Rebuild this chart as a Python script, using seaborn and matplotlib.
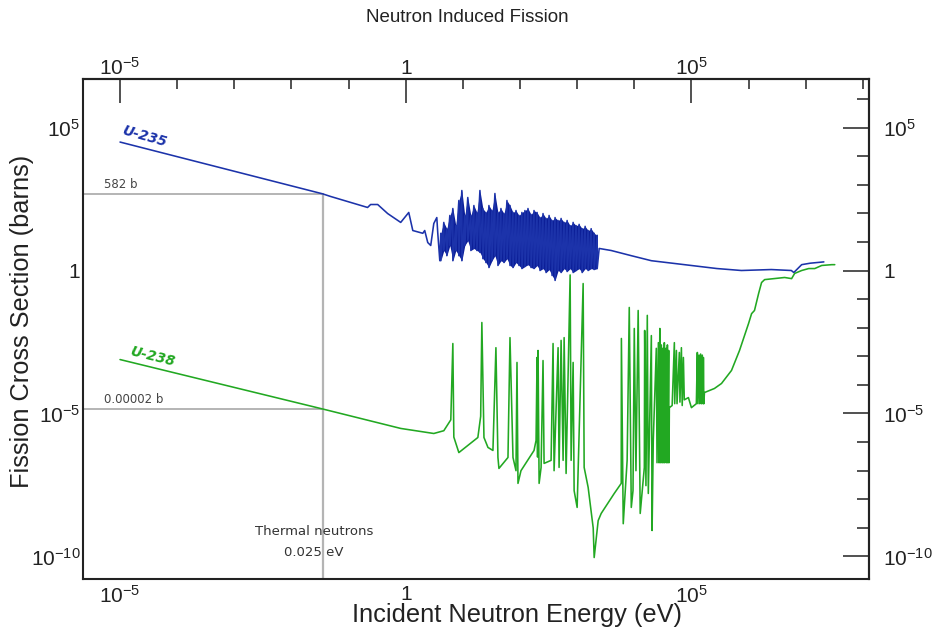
import matplotlib
matplotlib.use("Agg")
import matplotlib.pyplot as plt
from matplotlib.ticker import NullFormatter
import pandas as pd
import seaborn as sns

# ---------------- data ----------------
# U-235: smooth 1/v region and first resonances
u235_low_energy = [1e-5, 0.035, 0.048, 0.215, 0.243, 0.323, 0.483, 0.817, 1.13, 1.33,
                   1.99, 2.15, 2.43, 2.74, 3.1, 3.5, 3.64, 3.95]
u235_low_sigma = [31000, 480, 390, 160, 203, 203, 98, 48, 107, 25,
                  20, 25, 9.5, 7.5, 44, 71, 20, 2.2]

# U-235: dense resolved-resonance band (upper / lower envelope per column)
u235_band_energy = [4.11, 4.64, 5.24, 5.92, 6.68, 7.54, 8.51, 9.6, 10.8, 12.2,
                    13.8, 15.6, 17.6, 19.9, 22.4, 25.3, 28.6, 32.3, 36.4, 41.1,
                    46.4, 52.4, 59.1, 66.8, 75.4, 85.1, 96, 108, 122, 138,
                    156, 176, 199, 224, 253, 286, 323, 364, 411, 464,
                    524, 592, 668, 754, 851, 960, 1084, 1224, 1381, 1559,
                    1760, 1987, 2244]
u235_band_top = [20, 48, 29, 84, 147, 37, 280, 627, 84, 357,
                 84, 187, 107, 627, 147, 107, 187, 125, 492, 107,
                 147, 98, 280, 187, 107, 125, 84, 107, 125, 147,
                 91, 125, 107, 71, 98, 66, 84, 56, 71, 56,
                 66, 48, 56, 37, 48, 37, 41, 29, 35, 25,
                 29, 20, 17]
u235_band_bottom = [2.2, 5.0, 3.3, 7.5, 2.2, 5.0, 3.3, 2.2, 7.5, 11,
                    5.0, 5.9, 5.0, 4.3, 2.6, 1.9, 1.27, 2.2, 3.3, 1.5,
                    2.2, 1.9, 2.6, 1.5, 1.27, 1.9, 1.5, 1.17, 1.38, 1.6,
                    1.27, 1.17, 1.5, 1.0, 1.17, 0.85, 1.08, 0.67, 0.45, 1.0,
                    0.85, 1.17, 0.92, 1.17, 0.85, 1.0, 1.17, 0.85, 1.17, 1.0,
                    1.17, 1.08, 1.17]

# U-235: unresolved / fast region
u235_fast_energy = [2430, 3950, 8850, 1.99e4, 1e5, 2.8e5, 7.5e5, 2.5e6, 5.6e6, 6.2e6,
                    8.5e6, 1.2e7, 1.56e7, 2.08e7]
u235_fast_sigma = [5.9, 5.0, 3.3, 2.2, 1.5, 1.17, 1.0, 1.08, 1.0, 0.85,
                   1.6, 1.8, 1.9, 2.0]

# U-238 fission cross section
u238_energy = [1e-5, 0.035, 0.82, 3.1, 4.64, 6.15, 6.68, 6.95, 8.51,
               18.3, 20.5, 21.5, 23.4, 27.5, 33.6, 37.9, 41.1, 42.8,
               61.6, 66.8, 75.4, 85.1, 88.6, 92.2, 104,
               176, 191, 199, 203, 207, 216, 234, 253, 264,
               350, 379, 395, 464, 483, 524, 568, 592, 641, 754, 785, 851, 886, 1000,
               1274, 1327, 1559, 1910, 1987, 2335, 2636, 4460, 5910, 5950, 6410,
               7500, 8170, 8860, 9500, 1.0e4, 1.07e4, 1.17e4, 1.27e4, 1.5e4, 1.52e4,
               1.6e4, 1.69e4, 1.76e4, 1.99e4, 2.05e4, 2.15e4,
               2.43e4, 2.5e4, 2.64e4, 2.7e4, 2.8e4, 2.85e4, 2.98e4, 3.05e4, 3.16e4, 3.2e4,
               3.36e4, 3.4e4, 3.57e4, 3.64e4, 3.8e4, 3.85e4, 4.0e4, 4.05e4,
               4.11e4, 4.6e4, 5.03e4, 5.1e4, 5.46e4, 5.6e4, 6.15e4, 6.3e4, 6.68e4, 6.9e4,
               7.24e4, 7.5e4, 8.86e4, 1.0e5, 1.22e5,
               1.27e5, 1.3e5, 1.36e5, 1.4e5, 1.45e5, 1.5e5, 1.55e5, 1.6e5, 1.62e5, 1.65e5,
               1.69e5, 2.53e5, 3.36e5, 5.03e5, 6.95e5, 1.0e6, 1.13e6, 1.27e6, 1.5e6,
               1.69e6, 1.91e6, 4.28e6, 5.67e6, 6.41e6, 8.51e6, 1.13e7, 1.44e7, 1.91e7,
               2.86e7, 3.23e7]
u238_sigma = [7.7e-4, 1.44e-5, 3.0e-6, 2.0e-6, 2.5e-6, 6.0e-6, 2.8e-3, 1.5e-6, 4.3e-7,
              1.45e-6, 8.0e-6, 0.0152, 1.45e-6, 6.5e-7, 5.1e-7, 0.0020, 2.9e-7, 1.2e-7,
              2.9e-7, 0.0045, 2.9e-7, 1.0e-7, 6.1e-4, 3.6e-8, 1.0e-7,
              5.1e-7, 1.14e-6, 9.1e-4, 3.0e-7, 0.0016, 3.6e-8, 1.3e-7, 7.1e-4, 1.8e-7,
              2.3e-7, 0.0028, 1.0e-7, 0.0020, 1.3e-7, 0.0036, 2.3e-7, 0.0045, 8.0e-8, 0.7, 2.3e-7, 6.1e-4, 2.0e-8, 5.2e-9,
              0.35, 1.3e-7, 2.6e-8, 1.0e-9, 9.2e-11, 1.8e-9, 3.2e-9, 1.6e-8, 3.6e-8, 0.0042, 1.4e-9,
              2.3e-7, 0.051, 5.2e-9, 2.0e-8, 0.0094, 1.0e-7, 0.040, 3.2e-9, 1.3e-7, 0.0080,
              3.0e-8, 0.027, 1.6e-8, 0.0053, 8.1e-10, 1.14e-6,
              0.0019, 1.9e-7, 0.0030, 1.9e-7, 0.0094, 1.9e-7, 0.0025, 1.9e-7, 0.0019, 1.9e-7,
              0.0030, 1.9e-7, 0.0019, 1.9e-7, 0.0025, 1.9e-7, 0.0016, 1.9e-7,
              1.6e-5, 1.9e-5, 0.0030, 2.2e-5, 0.0016, 2.2e-5, 0.00136, 2.5e-5, 0.0020, 1.9e-5,
              9.1e-4, 3.0e-5, 3.6e-5, 1.6e-5, 2.2e-5,
              0.00136, 2.2e-5, 0.0011, 2.2e-5, 0.0012, 2.2e-5, 0.0011, 2.2e-5, 9.1e-4, 2.2e-5,
              5.4e-5, 7.5e-5, 1.12e-4, 3.2e-4, 0.0016, 0.014, 0.031, 0.040, 0.157,
              0.38, 0.48, 0.57, 0.52, 0.79, 1.0, 1.17, 1.17, 1.5,
              1.6, 1.6]

# reference markers
thermal_line_energy = 0.035
u235_thermal_sigma = 480
u238_thermal_sigma = 1.44e-5
thermal_label_energy = 0.025

x_major = [1e-5, 1, 1e5]
x_major_labels = [r"$\mathregular{10^{-5}}$", "1", r"$\mathregular{10^{5}}$"]
x_minor = [1e-4, 1e-3, 1e-2, 1e-1, 10, 100, 1e3, 1e4, 1e6, 1e7, 1e8]
y_major = [1e-10, 1e-5, 1, 1e5]
y_major_labels = [r"$\mathregular{10^{-10}}$", r"$\mathregular{10^{-5}}$", "1", r"$\mathregular{10^{5}}$"]
y_minor = [1e-9, 1e-8, 1e-7, 1e-6, 1e-4, 1e-3, 1e-2, 1e-1, 10, 100, 1e3, 1e4, 1e6]

# ---------------- build table ----------------
band_e, band_s = [], []
for e, t, b in zip(u235_band_energy, u235_band_top, u235_band_bottom):
    band_e += [e, e]
    band_s += [t, b]
u235_energy = u235_low_energy + band_e + u235_fast_energy
u235_sigma = u235_low_sigma + band_s + u235_fast_sigma

df = pd.DataFrame({
    "energy": u235_energy + u238_energy,
    "sigma": u235_sigma + u238_sigma,
    "isotope": ["U-235"] * len(u235_energy) + ["U-238"] * len(u238_energy),
})

# ---------------- style ----------------
sns.set_theme(style="white")
plt.rcParams["font.family"] = ["Liberation Sans", "DejaVu Sans"]
plt.rcParams["mathtext.fontset"] = "custom"
plt.rcParams["mathtext.rm"] = "Liberation Sans"
plt.rcParams["mathtext.it"] = "Liberation Sans:italic"
plt.rcParams["mathtext.bf"] = "Liberation Sans:bold"

blue = "#1c33aa"
band_blue = "#0c1f98"
green = "#22a822"
grey = "#b4b4b4"
ink = "#222222"

fig = plt.figure(figsize=(9.33, 6.31), dpi=100)
ax = fig.add_axes([83 / 933, 1 - 579 / 631, 786 / 933, 500 / 631])

# reference lines
ax.plot([10 ** -5.648, thermal_line_energy], [u235_thermal_sigma] * 2, color=grey, lw=1.4, zorder=1)
ax.plot([10 ** -5.648, thermal_line_energy], [u238_thermal_sigma] * 2, color=grey, lw=1.4, zorder=1)
ax.plot([thermal_line_energy] * 2, [10 ** -10.787, u235_thermal_sigma], color=grey, lw=1.6, zorder=1)

# solid core of the U-235 resonance band
ax.fill_between(u235_band_energy, u235_band_bottom, u235_band_top, color=band_blue, lw=0, zorder=2)

sns.lineplot(data=df, x="energy", y="sigma", hue="isotope",
             palette={"U-235": blue, "U-238": green}, sort=False, estimator=None,
             lw=1.15, legend=False, ax=ax, zorder=3)

ax.set_xscale("log")
ax.set_yscale("log")
ax.set_xlim(10 ** -5.648, 10 ** 8.108)
ax.set_ylim(10 ** -10.787, 10 ** 6.696)

for s in ax.spines.values():
    s.set_color(ink)
    s.set_linewidth(1.5)

ax.set_xticks(x_major, labels=x_major_labels)
ax.set_xticks(x_minor, minor=True)
ax.set_yticks(y_major, labels=y_major_labels)
ax.set_yticks(y_minor, minor=True)
ax.xaxis.set_minor_formatter(NullFormatter())
ax.yaxis.set_minor_formatter(NullFormatter())
ax.tick_params(axis="x", which="major", direction="in", length=17, width=1.1, color=ink,
               labelsize=15, pad=4, labelcolor=ink)
ax.tick_params(axis="x", which="minor", direction="in", length=7, width=1.1, color=ink)
ax.tick_params(axis="y", which="major", direction="in", length=19, width=1.1, color=ink,
               labelsize=15, pad=2, labelcolor=ink)
ax.tick_params(axis="y", which="minor", direction="in", length=9, width=1.1, color=ink)

secx = ax.secondary_xaxis("top")
secx.set_xticks(x_major, labels=x_major_labels)
secx.set_xticks(x_minor, minor=True)
secx.xaxis.set_minor_formatter(NullFormatter())
secx.tick_params(which="major", direction="in", length=17, width=1.1, color=ink,
                 labelsize=15, pad=0.5, labelcolor=ink)
secx.tick_params(which="minor", direction="in", length=7, width=1.1, color=ink)
secx.spines["top"].set_linewidth(1.5)
secx.spines["top"].set_color(ink)

secy = ax.secondary_yaxis("right")
secy.set_yticks(y_major, labels=y_major_labels)
secy.set_yticks(y_minor, minor=True)
secy.yaxis.set_minor_formatter(NullFormatter())
secy.tick_params(which="major", direction="in", length=19, width=1.1, color=ink,
                 labelsize=15, pad=10, labelcolor=ink)
secy.tick_params(which="minor", direction="in", length=9, width=1.1, color=ink)
secy.spines["right"].set_linewidth(1.5)
secy.spines["right"].set_color(ink)

# labels
ax.set_xlabel("Incident Neutron Energy (eV)", fontsize=18.3, color=ink)
ax.xaxis.set_label_coords((517 - 83) / 786, -(615 - 579) / 500)
ax.xaxis.label.set_va("center")
ax.set_ylabel("Fission Cross Section (barns)", fontsize=18.3, color=ink)
ax.yaxis.set_label_coords((22 - 83) / 786, 1 - (321 - 79) / 500)
ax.yaxis.label.set_va("center")
fig.text(467 / 933, 1 - 18 / 631, "Neutron Induced Fission", ha="center", va="center",
         fontsize=13.5, color=ink)

# annotations
ax.text(2.7e-5, 4.7e4, "U-235", color=blue, fontsize=10, fontweight="bold", fontstyle="italic",
        rotation=-16, ha="center", va="center", family=["DejaVu Sans"])
ax.text(3.6e-5, 9.5e-4, "U-238", color=green, fontsize=10, fontweight="bold", fontstyle="italic",
        rotation=-14, ha="center", va="center", family=["DejaVu Sans"])
ax.text(5.3e-6, u235_thermal_sigma * 1.25, "582 b", color="#444444", fontsize=8.5,
        ha="left", va="bottom", family=["DejaVu Sans"])
ax.text(5.3e-6, u238_thermal_sigma * 1.25, "0.00002 b", color="#444444", fontsize=8.5,
        ha="left", va="bottom", family=["DejaVu Sans"])
ax.text(thermal_label_energy, 7.2e-10, "Thermal neutrons", color="#333333", fontsize=9.5,
        ha="center", va="center", family=["DejaVu Sans"])
ax.text(thermal_label_energy, 1.4e-10, "0.025 eV", color="#333333", fontsize=9.5,
        ha="center", va="center", family=["DejaVu Sans"])

fig.savefig("out.png", dpi=100, facecolor="white")
